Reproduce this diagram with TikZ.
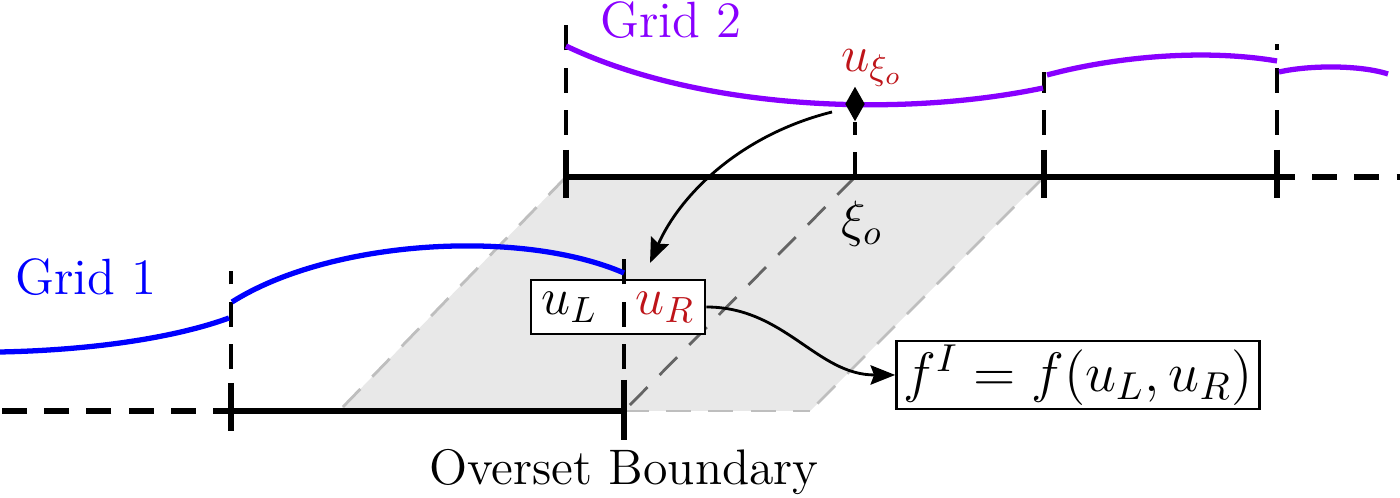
\RequirePackage{fix-cm}
\documentclass[tikz,border=0pt]{standalone}
\usepackage{fontspec}
\usetikzlibrary{arrows.meta,shapes.geometric}
\definecolor{gridblue}{RGB}{0,0,255}
\definecolor{gridpurple}{RGB}{136,0,255}
\definecolor{myred}{RGB}{190,20,25}
\definecolor{shadefill}{RGB}{232,232,232}
\definecolor{edgegray}{RGB}{190,190,190}
\definecolor{midgray}{RGB}{100,100,100}
\tikzset{
 axisline/.style={line width=1.6pt},
 axisdash/.style={line width=1.6pt, dash pattern=on 7.1pt off 4.9pt, dash phase=2pt},
 tickmark/.style={line width=1.6pt},
 guide/.style={line width=0.9pt, dash pattern=on 7.1pt off 4.9pt},
 curveA/.style={line width=1.5pt, gridblue},
 curveB/.style={line width=1.5pt, gridpurple},
 shadeedge/.style={line width=0.8pt, edgegray, dash pattern=on 7.1pt off 4.9pt},
 midline/.style={line width=0.8pt, midgray, dash pattern=on 7.1pt off 4.9pt},
 txt/.style={font=\fontsize{14.5}{17}\selectfont, inner sep=0pt},
 valbox/.style={draw, line width=0.7pt, fill=white, inner sep=0pt},
 conn/.style={line width=0.8pt, -{Stealth[length=7pt,width=5.5pt,inset=1pt]}},
}
\begin{document}
\begin{tikzpicture}[x=0.01cm,y=-0.01cm]
\useasboundingbox (0,0) rectangle (1400,498);
% shaded overlap region
\fill[shadefill] (566,177) -- (1044,177) -- (810,411) -- (339,411) -- cycle;
\draw[shadeedge] (566,177) -- (339,411);
\draw[shadeedge] (1044,177) -- (810,411);
\draw[shadeedge] (624,411) -- (810,411);
\draw[midline] (855,177) -- (624,411);
% grid 1 axis
\draw[axisdash] (231,411) -- (0,411);
\draw[axisline] (231,411) -- (624,411);
\draw[tickmark] (231,383) -- (231,431);
\draw[tickmark] (624,380) -- (624,440);
% grid 2 axis
\draw[axisline] (566,177) -- (1277,177);
\draw[axisdash] (1277,177) -- (1400,177);
\draw[tickmark] (566,150) -- (566,198);
\draw[tickmark] (1044,150) -- (1044,198);
\draw[tickmark] (1277,150) -- (1277,198);
% value box at the overset boundary
\node[valbox, font=\fontsize{14.8}{17}\selectfont, minimum width=1.74cm, minimum height=0.54cm] (uLR) at (618,307) {$u_L$\hspace{11pt}\textcolor{myred}{$u_R$}};
% vertical guides
\draw[guide] (231,411) -- (231,271);
\draw[guide] (624,411) -- (624,253);
\draw[guide] (566,177) -- (566,23);
\draw[guide] (1044,177) -- (1044,72);
\draw[guide] (1277,177) -- (1277,44);
% solution curves
\draw[curveA] (0,352) .. controls (100,350) and (180,336) .. (229,318);
\draw[curveA] (232,302) .. controls (330,240) and (520,228) .. (624,273);
\draw[curveB] (566,46) .. controls (700,110) and (900,118) .. (1043,88);
\draw[curveB] (1047,75) .. controls (1110,58) and (1200,48) .. (1277,61);
\draw[curveB] (1279,72) .. controls (1310,65) and (1360,65) .. (1388,74);
% sample point
\node[diamond, fill=black, inner sep=0pt, minimum width=0.2cm, minimum height=0.35cm] (xi) at (855,104) {};
\draw[guide] (855,177) -- (xi.south);
% labels
\node[txt, gridblue, anchor=base] (g1) at (86,295) {Grid 1};
\node[txt, gridpurple, anchor=base] (g2) at (671,38) {Grid 2};
\node[txt, myred] (uxi) at (872,68) {$u_{\xi_o}$};
\node[txt] (xio) at (862,224) {$\xi_o$};
\node[txt, font=\fontsize{14.2}{17}\selectfont, anchor=base] (ob) at (624,485) {Overset Boundary};
\node[valbox, font=\fontsize{15.8}{19}\selectfont, minimum width=3.63cm, minimum height=0.68cm] (fI) at (1078,375) {$f^I = f(u_L,u_R)$};
% connectors
\coordinate (a1s) at (832,112);
\coordinate (a1e) at (650,263);
\draw[conn] (a1s) .. controls (740,135) and (680,195) .. (a1e);
\draw[conn] (uLR.east) to[out=0,in=180] (fI.west);
\end{tikzpicture}
\end{document}
